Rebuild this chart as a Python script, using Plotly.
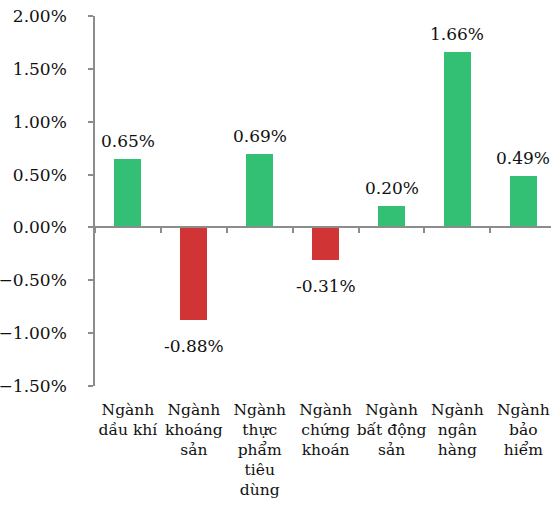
import plotly.graph_objects as go

categories = [
    "Ngành<br>dầu khí",
    "Ngành<br>khoáng<br>sản",
    "Ngành<br>thực<br>phẩm<br>tiêu<br>dùng",
    "Ngành<br>chứng<br>khoán",
    "Ngành<br>bất động<br>sản",
    "Ngành<br>ngân<br>hàng",
    "Ngành<br>bảo<br>hiểm",
]
values = [0.0065, -0.0088, 0.0069, -0.0031, 0.0020, 0.0166, 0.0049]
y_ticks = [0.02, 0.015, 0.01, 0.005, 0.0, -0.005, -0.01, -0.015]

GREEN = "#33BF74"
RED = "#D03434"
colors = [GREEN if v >= 0 else RED for v in values]
FONT = "DejaVu Serif"
AXIS = "#8C8C8C"
TXT = "#111111"

fig = go.Figure()
fig.add_trace(go.Bar(
    x=categories, y=values, marker=dict(color=colors, line=dict(width=0)),
    width=0.41, cliponaxis=False, hoverinfo="skip", showlegend=False,
))
fig.add_trace(go.Scatter(
    x=categories, y=[0]*len(categories), xaxis="x2", mode="markers",
    marker=dict(opacity=0), hoverinfo="skip", showlegend=False,
))

for c, v in zip(categories, values):
    fig.add_annotation(
        x=c, y=v, xref="x", yref="y", text=f"{v*100:.2f}%", showarrow=False,
        yanchor="bottom" if v >= 0 else "top",
        yshift=6 if v >= 0 else -14,
        font=dict(family=FONT, size=17, color=TXT),
    )

yr = [-0.015, 0.02]
fig.update_layout(
    width=551, height=508,
    margin=dict(l=95, r=0, t=16, b=122),
    paper_bgcolor="white", plot_bgcolor="white",
    font=dict(family=FONT, color=TXT),
    bargap=0,
    xaxis=dict(
        type="category", categoryorder="array", categoryarray=categories,
        range=[-0.5, 6.42], showline=False, ticks="", showgrid=False,
        tickfont=dict(family=FONT, size=15.5, color=TXT),
        ticklabelstandoff=12, fixedrange=True, automargin=False,
    ),
    xaxis2=dict(
        type="category", categoryorder="array", categoryarray=categories,
        overlaying="x", anchor="free", position=(0 - yr[0]) / (yr[1] - yr[0]),
        range=[-0.5, 6.42], showline=True, linecolor=AXIS, linewidth=1.5,
        ticks="outside", tickson="boundaries", ticklen=5, tickcolor=AXIS,
        tickwidth=1.5, showticklabels=False, showgrid=False, fixedrange=True,
        automargin=False,
    ),
    yaxis=dict(
        range=yr, tickvals=y_ticks, tickformat=".2%",
        showline=True, linecolor=AXIS, linewidth=1.5,
        ticks="outside", ticklen=5, tickcolor=AXIS, tickwidth=1.5,
        showgrid=False, zeroline=False,
        tickfont=dict(family=FONT, size=17, color=TXT),
        ticklabelstandoff=18, fixedrange=True, automargin=False,
    ),
)

fig.write_html(
    "out.html",
    config={"displayModeBar": False},
    post_script="document.body.style.margin='0';document.body.style.overflow='hidden';",
)
